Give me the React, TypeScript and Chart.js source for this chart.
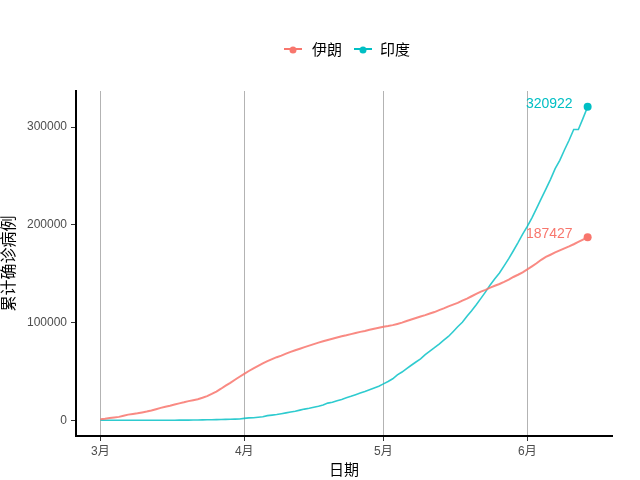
import React, { useEffect, useRef } from "react";
import { Chart, registerables } from "chart.js";

Chart.register(...registerables);

const startDate = "2020-03-01";
const seriesNames = ["伊朗", "印度"];
const seriesColors = ["#F8766D", "#00BFC4"];
const lineColors = ["rgba(248,118,109,0.85)", "rgba(0,191,196,0.82)"];

// Daily cumulative confirmed cases, 2020-03-01 .. 2020-06-14
const iranValues = [
  978, 1501, 2336, 2922, 3513, 4747, 5823, 6566, 7161, 8042,
  9000, 10075, 11364, 12729, 13938, 14991, 16169, 17361, 18407, 19644,
  20610, 21638, 23049, 24811, 27017, 29406, 32332, 35408, 38309, 41495, 44605,
  47593, 50468, 53183, 55743, 58226, 60500, 62589, 64586, 66220, 68192,
  70029, 71686, 73303, 74877, 76389, 77995, 79494, 80868, 82211, 83505,
  84802, 85996, 87026, 88194, 89328, 90481, 91472, 92584, 93657, 94640,
  95646, 96448, 97424, 98647, 99970, 101650, 103135, 104691, 106220, 107603,
  109286, 110767, 112725, 114533, 116635, 118392, 120198, 122492, 124603, 126949,
  129341, 131652, 133521, 135701, 137724, 139511, 141591, 143849, 146668, 148950, 151466,
  154445, 157562, 160696, 164270, 167156, 169425, 171789, 173832, 175927, 177938,
  180156, 182525, 184955, 187427,
];
const indiaValues = [
  3, 5, 5, 28, 30, 31, 34, 39, 43, 56,
  62, 73, 82, 102, 113, 119, 142, 156, 194, 244,
  330, 396, 499, 536, 657, 727, 887, 987, 1024, 1251, 1397,
  1998, 2543, 2567, 3082, 3588, 4778, 5311, 5916, 6725, 7598,
  8446, 9205, 10453, 11487, 12322, 13430, 14352, 15722, 17615, 18539,
  20080, 21370, 23077, 24530, 26283, 27890, 29451, 31324, 33062, 34863,
  37257, 39699, 42505, 46437, 49400, 52987, 56351, 59695, 62808, 67161,
  70768, 74292, 78055, 81997, 85784, 90648, 95698, 100328, 106475, 112028,
  118226, 124794, 131423, 138536, 144950, 150793, 158086, 165386, 173491, 181827, 190609,
  198370, 207191, 216919, 226770, 236657, 246622, 257486, 265928, 276583, 286579,
  297535, 297535, 308993, 320922,
];
const monthDates = ["2020-03-01", "2020-04-01", "2020-05-01", "2020-06-01"];
const monthLabels = ["3月", "4月", "5月", "6月"];
const yTicks = [0, 100000, 200000, 300000];
const xTitle = "日期";
const yTitle = "累计确诊病例";

const dayOffset = (d: string) =>
  Math.round((Date.parse(d) - Date.parse(startDate)) / 86400000);
const monthTicks = monthDates.map(dayOffset);

const CJK = "'Liberation Sans', Arial, 'Noto Sans CJK SC', sans-serif";

const decorPlugin = {
  id: "decor",
  afterDraw(chart: any) {
    const ctx = chart.ctx;
    const xs = chart.scales.x;
    const ys = chart.scales.y;
    ctx.save();
    // end labels
    const allSeries = [iranValues, indiaValues];
    ctx.font = `14px ${CJK}`;
    ctx.textAlign = "right";
    ctx.textBaseline = "middle";
    allSeries.forEach((vals, i) => {
      const last = vals.length - 1;
      const px = xs.getPixelForValue(last);
      const py = ys.getPixelForValue(vals[last]);
      ctx.fillStyle = seriesColors[i];
      ctx.fillText(String(vals[last]), px - 15, py - 3);
    });
    // axis titles
    ctx.fillStyle = "#000";
    ctx.font = `15px ${CJK}`;
    ctx.textAlign = "center";
    ctx.fillText(xTitle, (chart.chartArea.left + chart.chartArea.right) / 2, 471);
    ctx.save();
    ctx.font = `16px ${CJK}`;
    ctx.translate(10, (chart.chartArea.top + chart.chartArea.bottom) / 2);
    ctx.rotate(-Math.PI / 2);
    ctx.fillText(yTitle, 0, 0);
    ctx.restore();
    // legend
    const items = [
      { x: 284, tx: 312 },
      { x: 354, tx: 380 },
    ];
    items.forEach((it, i) => {
      ctx.strokeStyle = seriesColors[i];
      ctx.lineWidth = 2;
      ctx.beginPath();
      ctx.moveTo(it.x, 49);
      ctx.lineTo(it.x + 18, 49);
      ctx.stroke();
      ctx.fillStyle = seriesColors[i];
      ctx.beginPath();
      ctx.arc(it.x + 9, 50, 3.5, 0, Math.PI * 2);
      ctx.fill();
      ctx.fillStyle = "#000";
      ctx.font = `15px ${CJK}`;
      ctx.textAlign = "left";
      ctx.fillText(seriesNames[i], it.tx, 51);
    });
    ctx.restore();
  },
};

export default function App() {
  const ref = useRef<HTMLCanvasElement | null>(null);
  useEffect(() => {
    if (!ref.current) return;
    const mk = (vals: number[], i: number) => ({
      label: seriesNames[i],
      data: vals.map((v, k) => ({ x: k, y: v })),
      borderColor: lineColors[i],
      backgroundColor: seriesColors[i],
      borderWidth: i === 0 ? 2 : 1.6,
      pointRadius: (c: any) => (c.dataIndex === vals.length - 1 ? 4 : 0),
      pointBackgroundColor: seriesColors[i],
      pointBorderWidth: 0,
      tension: 0,
      fill: false,
    });
    const n = iranValues.length - 1;
    const chart = new Chart(ref.current, {
      type: "line",
      data: { datasets: [mk(iranValues, 0), mk(indiaValues, 1)] },
      options: {
        animation: false,
        responsive: true,
        maintainAspectRatio: false,
        layout: { padding: { top: 91, right: 28, left: 0, bottom: 0 } },
        plugins: { legend: { display: false }, tooltip: { enabled: false } },
        scales: {
          x: {
            type: "linear",
            min: -n * 0.05,
            max: n * 1.05,
            afterFit: (s: any) => { s.height = 44; },
            afterBuildTicks: (s: any) => { s.ticks = monthTicks.map((v) => ({ value: v })); },
            ticks: {
              callback: (v: any) => monthLabels[monthTicks.indexOf(v)] ?? "",
              color: "#4D4D4D",
              font: { size: 12, family: CJK },
              padding: 3,
              maxRotation: 0,
              autoSkip: false,
            },
            grid: {
              color: "#B3B3B3",
              lineWidth: 1,
              tickColor: "#333",
              tickLength: 5,
              drawOnChartArea: true,
            },
            border: { display: true, color: "#000", width: 2 },
          },
          y: {
            type: "linear",
            min: -320922 * 0.05,
            max: 320922 * 1.05,
            afterFit: (s: any) => { s.width = 76; },
            afterBuildTicks: (s: any) => { s.ticks = yTicks.map((v) => ({ value: v })); },
            ticks: {
              callback: (v: any) => String(v),
              color: "#4D4D4D",
              font: { size: 12, family: CJK },
              padding: 4,
            },
            grid: {
              drawOnChartArea: false,
              tickColor: "#333",
              tickLength: 5,
            },
            border: { display: true, color: "#000", width: 2 },
          },
        },
      },
      plugins: [decorPlugin],
    } as any);
    return () => chart.destroy();
  }, []);
  return (
    <div style={{ position: "absolute", left: 0, top: 0, width: 640, height: 480, background: "#fff" }}>
      <canvas ref={ref} />
    </div>
  );
}
